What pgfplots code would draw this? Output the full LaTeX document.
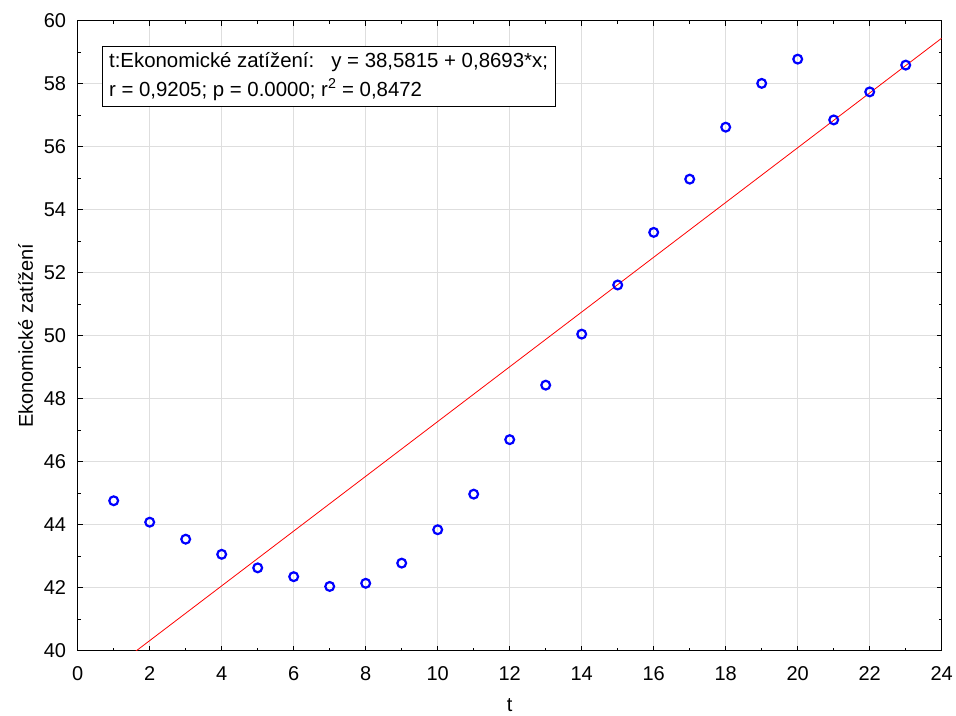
\documentclass[border=0pt]{standalone}
\usepackage{pgfplots}
\pgfplotsset{compat=1.18}
\usepackage{fontspec}
\setmainfont{Liberation Sans}
\definecolor{gridgray}{RGB}{222,222,222}
\begin{document}
\begin{tikzpicture}[x=1pt,y=1pt]
\path[use as bounding box] (-77.7,-64.3) rectangle (878.3,650.7);
\begin{axis}[
  at={(0,0)}, anchor=south west,
  scale only axis, width=864pt, height=630pt,
  xmin=0, xmax=24, ymin=40, ymax=60,
  xtick={0,2,...,24}, ytick={40,42,...,60},
  minor x tick num=1, minor y tick num=1,
  tick align=inside, major tick length=5pt, minor tick length=3pt,
  grid=major, major grid style={gridgray, line width=1pt},
  axis line style={black, line width=0.9pt},
  tick style={black, line width=0.8pt},
  /pgf/number format/assume math mode=true,
  ticklabel style={font=\fontsize{20}{24}\selectfont},
  xticklabel style={anchor=center, yshift=-23pt},
  yticklabel style={anchor=east, inner sep=0pt, xshift=-11.5pt},
  xlabel={t}, ylabel={Ekonomické zatížení},
  label style={font=\fontsize{20}{24}\selectfont, inner sep=0pt},
  xlabel style={at={(axis description cs:0.5,0)}, anchor=base, yshift=-61pt},
  ylabel style={at={(axis description cs:0,0.5)}, anchor=base, yshift=44.7pt},
]
% fitted line y = 38.5815 + 0.8693 x
\addplot[red, line width=0.8pt, forget plot] coordinates {(0,38.5815) (24,59.4447)};
% observations
\addplot[only marks, mark=o, mark size=4.4pt, blue, mark options={line width=2.2pt}] table {
t  y
1  44.76
2  44.08
3  43.54
4  43.06
5  42.63
6  42.35
7  42.04
8  42.14
9  42.78
10 43.84
11 44.97
12 46.70
13 48.43
14 50.05
15 51.61
16 53.28
17 54.97
18 56.62
19 58.01
20 58.78
21 56.85
22 57.74
23 58.59
};
\node[draw=black, line width=0.8pt, fill=white, anchor=north west, align=left,
      inner xsep=7pt, inner ysep=6pt, font=\fontsize{20.4}{29.5}\selectfont]
  at (axis cs:0.667,59.21)
  {t:Ekonomické zatížení:\ \ \ y = 38,5815 + 0,8693*x;\\r = 0,9205; p = 0.0000; r\textsuperscript{2} = 0,8472};
\end{axis}
\end{tikzpicture}
\end{document}
